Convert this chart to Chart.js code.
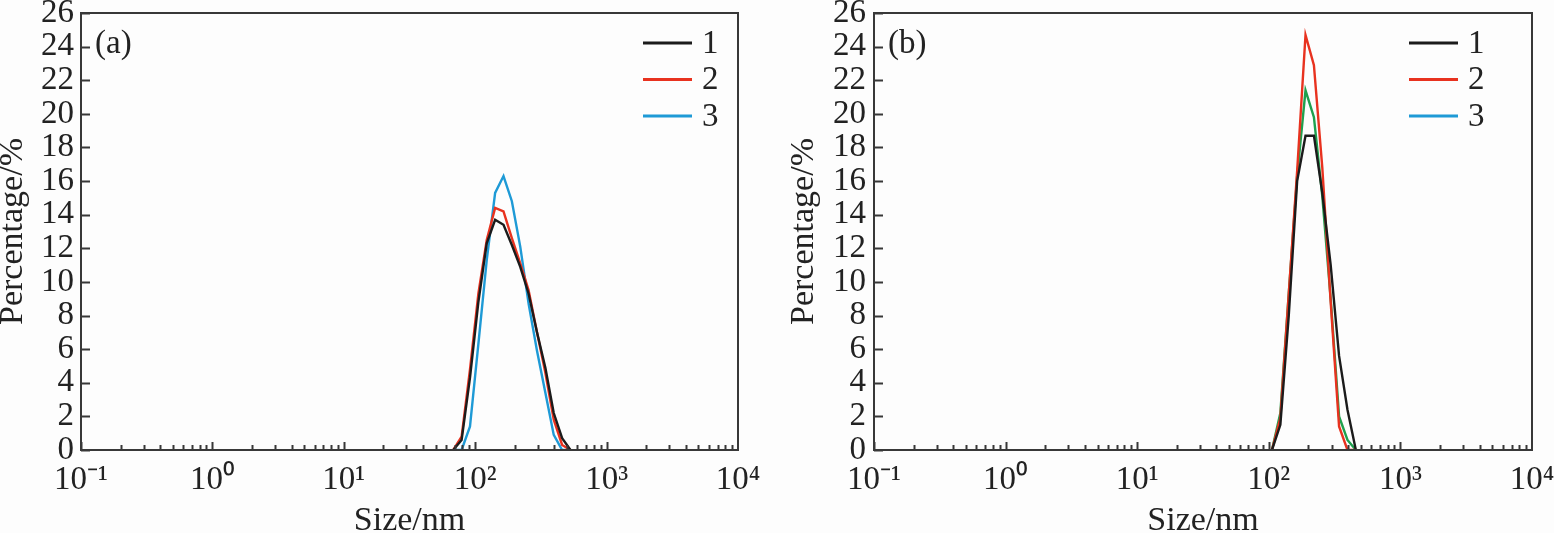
<!DOCTYPE html>
<html>
<head>
<meta charset="utf-8">
<title>Particle size distribution</title>
<script src="https://cdn.jsdelivr.net/npm/chart.js@4.4.1/dist/chart.umd.min.js"></script>
<style>
  html, body { margin: 0; padding: 0; background: #fdfdfd; overflow: hidden; }
  .panels { display: flex; width: 1554px; height: 533px; }
  canvas { display: block; }
</style>
</head>
<body>
<div class="panels">
  <canvas id="chartA" width="777" height="533"></canvas>
  <canvas id="chartB" width="777" height="533"></canvas>
</div>
<script>
// ── DATA ─────────────────────────────────────
const X_TICKS       = [0.1, 1, 10, 100, 1000, 10000];
const X_TICK_LABELS = ['10⁻¹', '10⁰', '10¹', '10²', '10³', '10⁴'];
const SERIES_LABELS = ['1', '2', '3'];

// panel (a)
const SIZE_A = [68.06, 78.82, 91.28, 105.7, 122.4, 141.8, 164.2, 190.1, 220.2, 255.0, 295.3, 342.0, 396.1, 458.7, 531.2];
const A1     = [0, 0.6, 4.3, 8.8, 12.3, 13.7, 13.4, 12.2, 10.9, 9.3, 7.0, 4.9, 2.2, 0.7, 0];
const A2     = [0, 0.8, 4.8, 9.3, 12.5, 14.4, 14.2, 12.6, 11.1, 9.5, 7.0, 4.6, 1.8, 0.3, 0];
const A3     = [0, 0, 1.4, 6.3, 11.3, 15.3, 16.3, 14.8, 12.1, 8.7, 5.9, 3.4, 0.9, 0, 0];

// panel (b)
const SIZE_B = [105.7, 122.4, 141.8, 164.2, 190.1, 220.2, 255.0, 295.3, 342.0, 396.1, 458.7];
const B1     = [0, 1.5, 8.0, 16.0, 18.7, 18.7, 15.3, 11.0, 5.6, 2.4, 0];
const B2     = [0, 1.9, 9.3, 16.6, 24.7, 22.9, 16.8, 8.8, 1.4, 0, 0];
const B3     = [0, 2.2, 9.3, 16.3, 21.4, 19.8, 15.1, 9.0, 2.0, 0.6, 0];

// colours
const BLACK = '#1b1b1b', RED = '#e8321f', BLUE = '#1e9ad6', GREEN = '#1fa04e';
const COLORS_A        = [BLACK, RED, BLUE];
const COLORS_B        = [BLACK, RED, GREEN];
const LEGEND_COLORS_B = [BLACK, RED, BLUE];   // legend of (b) still shows "3" in blue

const TEXT  = '#222';
const FRAME = '#383838';
const SERIF = '"Liberation Serif", "Times New Roman", serif';

// ── FRAME, INWARD TICKS, LEGEND, TAG ─────────
const panelDecor = {
  id: 'panelDecor',
  afterDatasetsDraw(chart, args, opts) {
    const { ctx, chartArea: a, scales: { x, y } } = chart;
    ctx.save();
    ctx.strokeStyle = FRAME;
    ctx.lineWidth = 2;
    ctx.strokeRect(a.left, a.top, a.right - a.left, a.bottom - a.top);

    ctx.beginPath();
    y.ticks.forEach(t => {
      const py = Math.round(y.getPixelForValue(t.value)) + 0.5;
      ctx.moveTo(a.left, py);
      ctx.lineTo(a.left + 9, py);
    });
    for (let e = -1; e < 4; e++) {
      for (let d = 1; d < 10; d++) {
        const px = Math.round(x.getPixelForValue(d * Math.pow(10, e))) + 0.5;
        ctx.moveTo(px, a.bottom);
        ctx.lineTo(px, a.bottom - (d === 1 ? 8 : 5));
      }
    }
    ctx.stroke();

    // legend
    ctx.font = `33px ${SERIF}`;
    ctx.textBaseline = 'middle';
    ctx.textAlign = 'left';
    chart.data.datasets.forEach((ds, i) => {
      const ly = a.top + 30 + i * 36.5;
      const lx = a.left + opts.legendX;
      ctx.strokeStyle = opts.legendColors[i];
      ctx.lineWidth = 2.8;
      ctx.beginPath();
      ctx.moveTo(lx, ly);
      ctx.lineTo(lx + 49, ly);
      ctx.stroke();
      ctx.fillStyle = TEXT;
      ctx.fillText(ds.label, lx + 59, ly + 1);
    });

    // panel tag
    ctx.fillText(opts.tag, a.left + 14, a.top + 31);
    ctx.restore();
  }
};

function toPoints(sizes, values) {
  return sizes.map((s, i) => ({ x: s, y: values[i] }));
}

function noPad(s) {
  s.paddingLeft = s.paddingRight = s.paddingTop = s.paddingBottom = 0;
}

// ── PANEL ────────────────────────────────────
function makePanel(id, p) {
  return new Chart(document.getElementById(id), {
    type: 'line',
    data: {
      datasets: p.series.map((vals, i) => ({
        label: SERIES_LABELS[i],
        data: toPoints(p.sizes, vals),
        borderColor: p.colors[i],
        borderWidth: 2.4,
        pointRadius: 0,
        tension: 0,
        fill: false,
      }))
    },
    options: {
      responsive: false,
      animation: false,
      layout: { padding: { left: 0, right: p.padRight, top: 13, bottom: 0 } },
      plugins: {
        legend: { display: false },
        tooltip: { enabled: false },
        panelDecor: { tag: p.tag, legendX: p.legendX, legendColors: p.legendColors }
      },
      scales: {
        x: {
          type: 'logarithmic',
          min: 0.1,
          max: 10000,
          afterBuildTicks: s => { s.ticks = X_TICKS.map(v => ({ value: v })); },
          afterFit: s => { s.height = 83; noPad(s); },
          grid: { display: false, drawTicks: false },
          border: { display: false },
          ticks: {
            autoSkip: false, maxRotation: 0, padding: 11, color: TEXT,
            font: { family: SERIF, size: 33 },
            callback: v => X_TICK_LABELS[X_TICKS.indexOf(v)]
          },
          title: {
            display: true, text: 'Size/nm', color: TEXT, padding: 0,
            font: { family: SERIF, size: 34, lineHeight: 0.7 }
          }
        },
        y: {
          min: 0,
          max: 26,
          afterFit: s => { s.width = p.yWidth; noPad(s); },
          grid: { display: false, drawTicks: false },
          border: { display: false },
          ticks: {
            stepSize: 2, autoSkip: false, padding: p.yPad, color: TEXT,
            font: { family: SERIF, size: 33 }
          },
          title: {
            display: true, text: 'Percentage/%', color: TEXT,
            padding: { top: p.yTitlePad, bottom: 0 },
            font: { family: SERIF, size: 34, lineHeight: 0.6 }
          }
        }
      }
    },
    plugins: [panelDecor]
  });
}

// ── INIT ─────────────────────────────────────
makePanel('chartA', {
  tag: '(a)', sizes: SIZE_A, series: [A1, A2, A3], colors: COLORS_A, legendColors: COLORS_A,
  padRight: 39, yWidth: 81, yPad: 7, yTitlePad: 3, legendX: 562
});
makePanel('chartB', {
  tag: '(b)', sizes: SIZE_B, series: [B1, B2, B3], colors: COLORS_B, legendColors: LEGEND_COLORS_B,
  padRight: 22, yWidth: 97, yPad: 8, yTitlePad: 17, legendX: 535
});
</script>
</body>
</html>
